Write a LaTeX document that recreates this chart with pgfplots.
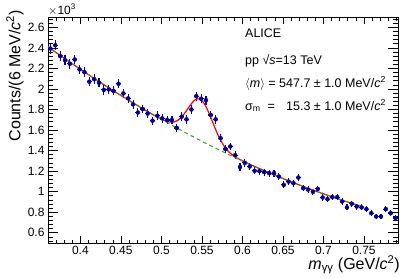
\documentclass[border=0pt]{standalone}
\usepackage{fontspec}
\setmainfont{Liberation Sans}
\usepackage{pgfplots}
\pgfplotsset{compat=1.18}
\usepackage{pgfplotstable}
\definecolor{mblue}{RGB}{0,0,150}
\definecolor{fgreen}{RGB}{60,160,50}
\pgfplotstableread{
x y e
0.363 2.393 0.049
0.369 2.425 0.049
0.375 2.320 0.048
0.381 2.280 0.048
0.387 2.244 0.047
0.393 2.286 0.048
0.399 2.190 0.047
0.405 2.163 0.047
0.411 2.070 0.045
0.417 2.095 0.046
0.423 2.060 0.045
0.429 1.990 0.045
0.435 1.995 0.045
0.441 1.980 0.044
0.447 2.050 0.045
0.453 1.956 0.044
0.459 1.908 0.044
0.465 1.850 0.043
0.471 1.770 0.042
0.477 1.804 0.042
0.483 1.760 0.042
0.489 1.690 0.041
0.495 1.739 0.042
0.501 1.713 0.041
0.507 1.697 0.041
0.513 1.697 0.041
0.519 1.620 0.040
0.525 1.730 0.042
0.531 1.704 0.041
0.537 1.800 0.042
0.543 1.930 0.044
0.549 1.904 0.044
0.555 1.891 0.043
0.561 1.746 0.042
0.567 1.704 0.041
0.573 1.520 0.039
0.579 1.415 0.038
0.585 1.440 0.038
0.591 1.355 0.037
0.597 1.240 0.035
0.603 1.280 0.036
0.609 1.245 0.035
0.615 1.203 0.035
0.621 1.200 0.035
0.627 1.190 0.034
0.633 1.180 0.034
0.639 1.180 0.034
0.645 1.147 0.034
0.651 1.066 0.033
0.657 1.098 0.033
0.663 1.082 0.033
0.669 1.137 0.034
0.675 1.034 0.032
0.681 1.020 0.032
0.687 0.998 0.032
0.693 1.027 0.032
0.699 0.943 0.031
0.705 0.927 0.030
0.711 0.947 0.031
0.717 0.947 0.031
0.723 0.904 0.030
0.729 0.846 0.029
0.735 0.882 0.030
0.741 0.855 0.029
0.747 0.846 0.029
0.753 0.830 0.029
0.759 0.791 0.028
0.765 0.758 0.028
0.771 0.758 0.028
0.777 0.830 0.029
0.783 0.791 0.028
0.789 0.743 0.027
}\datatable
\pgfplotstableread{
x y
0.36 2.4101
0.37 2.3541
0.38 2.2989
0.39 2.2446
0.40 2.1911
0.41 2.1385
0.42 2.0867
0.43 2.0358
0.44 1.9857
0.45 1.9364
0.46 1.8880
0.47 1.8404
0.48 1.7937
0.49 1.7478
0.495 1.7263
0.50 1.7058
0.505 1.6886
0.51 1.6777
0.515 1.6775
0.52 1.6929
0.525 1.7268
0.53 1.7775
0.535 1.8351
0.5375 1.8616
0.54 1.8834
0.5425 1.8983
0.545 1.9042
0.5477 1.8994
0.55 1.8856
0.5525 1.8608
0.555 1.8270
0.5575 1.7858
0.56 1.7396
0.565 1.6415
0.57 1.5493
0.575 1.4731
0.58 1.4157
0.585 1.3743
0.59 1.3440
0.595 1.3201
0.60 1.2997
0.61 1.2627
0.62 1.2278
0.63 1.1937
0.64 1.1604
0.65 1.1280
0.66 1.0964
0.67 1.0657
0.68 1.0358
0.69 1.0067
0.70 0.9785
0.71 0.9512
0.72 0.9246
0.73 0.8989
0.74 0.8741
0.75 0.8501
}\fittable
\pgfplotstableread{
x y
0.36 2.4101
0.37 2.3541
0.38 2.2989
0.39 2.2446
0.40 2.1911
0.41 2.1385
0.42 2.0867
0.43 2.0358
0.44 1.9857
0.45 1.9364
0.46 1.8880
0.47 1.8404
0.48 1.7937
0.49 1.7478
0.50 1.7027
0.51 1.6585
0.52 1.6152
0.53 1.5726
0.54 1.5310
0.55 1.4901
0.56 1.4501
0.57 1.4110
0.58 1.3726
0.59 1.3352
0.60 1.2985
0.61 1.2627
0.62 1.2278
0.63 1.1937
0.64 1.1604
0.65 1.1280
0.66 1.0964
0.67 1.0657
0.68 1.0358
0.69 1.0067
0.70 0.9785
0.71 0.9512
0.72 0.9246
0.73 0.8989
0.74 0.8741
0.75 0.8501
}\bgtable
\begin{document}
\begin{tikzpicture}
\begin{axis}[
  at={(0pt,0pt)}, anchor=south west,
  scale only axis, width=350pt, height=226pt,
  xmin=0.36, xmax=0.792, ymin=0.5, ymax=2.7,
  xtick={0.4,0.45,0.5,0.55,0.6,0.65,0.7,0.75},
  ytick={0.6,0.8,1,1.2,1.4,1.6,1.8,2,2.2,2.4,2.6},
  minor xtick={0.36,0.37,0.38,0.39,0.41,0.42,0.43,0.44,0.46,0.47,0.48,0.49,0.51,0.52,0.53,0.54,0.56,0.57,0.58,0.59,0.61,0.62,0.63,0.64,0.66,0.67,0.68,0.69,0.71,0.72,0.73,0.74,0.76,0.77,0.78,0.79},
  minor ytick={0.52,0.56,0.64,0.68,0.72,0.76,0.84,0.88,0.92,0.96,1.04,1.08,1.12,1.16,1.24,1.28,1.32,1.36,1.44,1.48,1.52,1.56,1.64,1.68,1.72,1.76,1.84,1.88,1.92,1.96,2.04,2.08,2.12,2.16,2.24,2.28,2.32,2.36,2.44,2.48,2.52,2.56,2.64,2.68},
  tick align=inside, xtick pos=both, ytick pos=both,
  xtick style={/pgfplots/major tick length=7pt,/pgfplots/minor tick length=3.5pt,black,line width=0.6pt},
  ytick style={/pgfplots/major tick length=10pt,/pgfplots/minor tick length=5pt,black,line width=0.6pt},
  axis line style={black,line width=0.7pt},
  tick label style={font=\fontsize{12}{14}\selectfont},
  /pgf/number format/assume math mode=true,
  clip=true,
]
\addplot[only marks, mark=*, mark size=2pt, color=mblue,
  error bars/.cd, y dir=both, y explicit, x dir=both, x fixed=0.003,
  error mark=none, error bar style={line width=1.1pt, color=mblue}]
  table[x=x, y=y, y error=e] {\datatable};
\addplot[red, line width=1.2pt, smooth] table[x=x, y=y] {\fittable};
\addplot[fgreen, line width=1pt, dash pattern=on 4pt off 3pt] table[x=x, y=y] {\bgtable};
\end{axis}
\node[anchor=base west, inner sep=0, font=\fontsize{12}{14}\selectfont] at (0pt,229pt) {$\times$10\textsuperscript{3}};
\node[rotate=90, anchor=south east, inner sep=0, font=\fontsize{16}{19}\selectfont] at (-24pt,233pt) {Counts/(6 MeV/\textit{c}\textsuperscript{2})};
\node[anchor=north east, inner sep=0, font=\fontsize{16}{19}\selectfont] at (352pt,-12pt) {\textit{m}\textsubscript{γγ} (GeV/\textit{c}\textsuperscript{2})};
\node[anchor=base west, inner sep=0, font=\fontsize{12.5}{15}\selectfont] at (197pt,206pt) {ALICE};
\node[anchor=base west, inner sep=0, font=\fontsize{12.5}{15}\selectfont] at (197pt,179pt) {pp √\textit{s}=13 TeV};
\node[anchor=base west, inner sep=0, font=\fontsize{12.5}{15}\selectfont] (n3) at (197pt,156pt) {$\langle$\textit{m}$\rangle$ = 547.7 ± 1.0 MeV/\textit{c}\textsuperscript{2}};
\node[anchor=base west, inner sep=0, font=\fontsize{12.5}{15}\selectfont] at (197pt,133pt) {σ\textsubscript{m}\ \ =};
\node[anchor=base east, inner sep=0, font=\fontsize{12.5}{15}\selectfont] at (n3.base east |- {(0pt,133pt)}) {15.3 ± 1.0 MeV/\textit{c}\textsuperscript{2}};
\pgfresetboundingbox
\path[use as bounding box] (-48pt,-34pt) rectangle (359pt,243pt);
\end{tikzpicture}
\end{document}
